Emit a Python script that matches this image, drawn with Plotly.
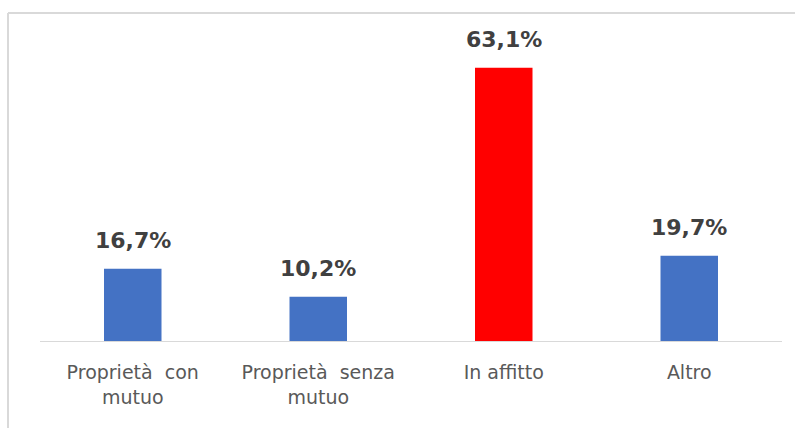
import plotly.graph_objects as go

categories = ["Proprietà  con<br>mutuo", "Proprietà  senza<br>mutuo", "In affitto", "Altro"]
values = [16.7, 10.2, 63.1, 19.7]
labels = ["16,7%", "10,2%", "63,1%", "19,7%"]
colors = ["#4472C4", "#4472C4", "#FF0000", "#4472C4"]

fig = go.Figure()
fig.add_trace(go.Bar(x=categories, y=values, marker_color=colors, marker_line_width=0,
                     hoverinfo="skip"))

for c, v, t in zip(categories, values, labels):
    fig.add_annotation(x=c, y=v, text="<b>%s</b>" % t, showarrow=False,
                       yanchor="bottom", yshift=14,
                       font=dict(family="DejaVu Sans", size=22, color="#404040"))

# chart frame (light gray border, top and left visible)
fig.add_shape(type="line", xref="paper", yref="paper", x0=-0.0431, x1=1.05, y0=1.0825, y1=1.0825,
              line=dict(color="#D9D9D9", width=2))
fig.add_shape(type="line", xref="paper", yref="paper", x0=-0.0431, x1=-0.0431, y0=-0.3, y1=1.0825,
              line=dict(color="#D9D9D9", width=2))

fig.update_layout(
    width=795, height=428,
    margin=dict(l=40, r=13, t=38, b=87),
    paper_bgcolor="white", plot_bgcolor="white",
    bargap=0.69, showlegend=False,
    xaxis=dict(showline=True, linecolor="#D9D9D9", linewidth=1, ticks="",
               tickfont=dict(family="DejaVu Sans", size=19, color="#595959"),
               ticklabelstandoff=14),
    yaxis=dict(range=[0, 70], visible=False, showgrid=False),
)
fig.write_html("out.html")
